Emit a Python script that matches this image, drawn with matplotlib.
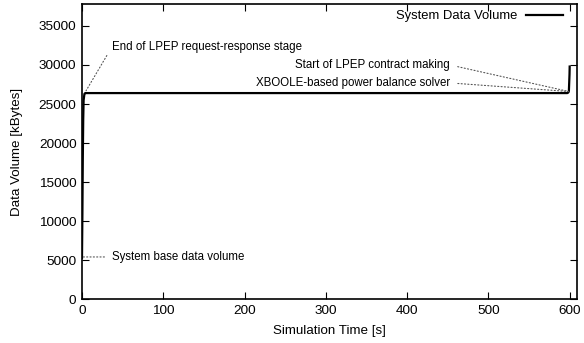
import numpy as np
import matplotlib.pyplot as plt

plt.rcParams['font.family'] = ['Liberation Sans', 'DejaVu Sans']

# simulation time [s] and data volume [kBytes]
time = [0, 0.5, 1, 1.5, 2, 3, 4, 100, 300, 500, 597, 598, 599, 599.8, 600]
volume = [5300, 11000, 18000, 23000, 25500, 26300, 26400, 26400, 26400, 26400,
          26400, 26450, 26600, 28800, 29800]

xticks = [0, 100, 200, 300, 400, 500, 600]
yticks = [0, 5000, 10000, 15000, 20000, 25000, 30000, 35000]

fig = plt.figure(figsize=(5.84, 3.43), dpi=100)
ax = fig.add_axes([0.1404, 0.128, 0.8476, 0.86])

ax.plot(time, volume, color='black', lw=1.6, label='System Data Volume')

ax.set_xlim(0, 609)
ax.set_ylim(0, 37800)
ax.set_xticks(xticks)
ax.set_yticks(yticks)
ax.tick_params(direction='in', top=True, right=True, length=5, width=0.8,
               labelsize=9.7, pad=4)
for s in ax.spines.values():
    s.set_linewidth(1.2)

ax.set_xlabel('Simulation Time [s]', fontsize=9.6, labelpad=6)
ax.set_ylabel('Data Volume [kBytes]', fontsize=9.6, labelpad=11)

def dots(rx):
    return dict(arrowstyle='-', linestyle=(0, (1, 2)), color='#555555', lw=0.8,
                shrinkA=3.5, shrinkB=0, relpos=(rx, 0.5))

ax.annotate('End of LPEP request-response stage', xy=(5, 26700), xytext=(37, 32350),
            fontsize=8.3, va='center', ha='left', arrowprops=dots(0))
ax.annotate('Start of LPEP contract making', xy=(599, 26600), xytext=(453, 30000),
            fontsize=8.3, va='center', ha='right', arrowprops=dots(1))
ax.annotate('XBOOLE-based power balance solver', xy=(599, 26600), xytext=(453, 27700),
            fontsize=8.3, va='center', ha='right', arrowprops=dots(1))
ax.annotate('System base data volume', xy=(1, 5400), xytext=(37, 5400),
            fontsize=8.3, va='center', ha='left', arrowprops=dots(0))

ax.legend(loc='upper right', bbox_to_anchor=(0.99, 1.01), frameon=False,
          markerfirst=False, fontsize=9.4, handlelength=2.8, handletextpad=0.7,
          borderaxespad=0.3)

fig.savefig('out.png', dpi=100)
